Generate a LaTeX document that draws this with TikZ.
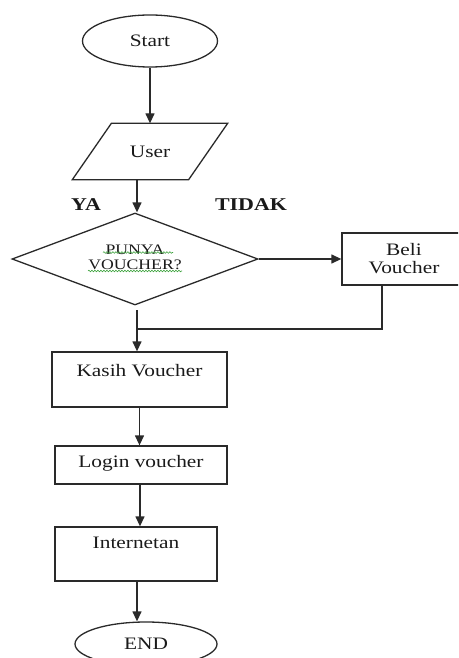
\documentclass[tikz,border=0pt]{standalone}
\usepackage{fontspec}
\setmainfont[FakeStretch=1.22]{Liberation Serif}
\usetikzlibrary{shapes.geometric,arrows.meta,decorations.pathmorphing}
\definecolor{linec}{HTML}{2A2A2A}
\definecolor{textc}{HTML}{1A1A1A}
\definecolor{spellc}{HTML}{3FA33F}
\begin{document}
\begin{tikzpicture}[x=1pt,y=-1pt,line width=1.3pt,
  base/.style={draw=linec,text=textc,inner sep=0pt,align=center,font=\fontsize{17.5}{18}\selectfont},
  terminal/.style={base,ellipse},
  procbox/.style={base,rectangle},
  iobox/.style={inner sep=0pt,text=textc,font=\fontsize{17.5}{18}\selectfont},
  decision/.style={base,diamond,aspect=2.67,font=\fontsize{14.5}{18}\selectfont},
  answer/.style={inner sep=0pt,text=textc,font=\bfseries\fontsize{18}{18}\selectfont},
  arr/.style={draw=linec,-{Triangle[length=10pt,width=9pt]}},
  conn/.style={draw=linec},
  spell/.style={draw=spellc,line width=0.6pt,decorate,decoration={snake,segment length=3pt,amplitude=0.8pt}}]
\useasboundingbox (0,0) rectangle (458,658);
\clip (0,0) rectangle (458,658);

% nodes
\node[terminal,minimum width=135pt,minimum height=52pt] (start) at (150,41) {Start};
\node[iobox,minimum width=115pt,minimum height=55pt] (user) at (150,151.5) {User};
\draw[linec] ([xshift=-19.5pt]user.south west) -- ([xshift=-19.5pt]user.south east)
  -- ([xshift=19.5pt]user.north east) -- ([xshift=19.5pt]user.north west) -- cycle;
\node[decision,minimum width=246pt,minimum height=92pt] (dec) at (135,259) {\raisebox{4pt}{\shortstack{PUNYA\\[2pt]VOUCHER?}}};
\node[answer] (ya) at (86,205) {YA};
\node[answer] (tidak) at (251,205) {TIDAK};
\node[procbox,minimum width=124pt,minimum height=52pt] (beli) at (404,259) {Beli\\Voucher};
\node[procbox,minimum width=175pt,minimum height=55pt] (kasih) at (139.5,379.5) {Kasih Voucher\\ };
\node[procbox,minimum width=172pt,minimum height=38pt] (login) at (141,465) {Login voucher\\[-10pt] };
\node[procbox,minimum width=162pt,minimum height=54pt] (inter) at (136,554) {Internetan\\[4pt] };
\node[terminal,minimum width=142pt,minimum height=44pt] (end) at (146,644) {\raisebox{1pt}{END}};

% spell-check underlines
\draw[spell] (103,252.5) -- (173,252.5);
\draw[spell] (88,271) -- (182,271);

% helper coordinates
\coordinate (d1) at (137,310);
\coordinate (j) at (137,329);
\coordinate (bx) at (382,0);
\coordinate (ix) at (140,0);
\coordinate (ex) at (137,0);

% connectors
\draw[arr] (start.south) -- (user.north);
\draw[arr] (user.south -| d1) -- (d1 |- dec.north);
\draw[arr] (dec.east) -- (beli.west);
\draw[arr] (d1) -- (d1 |- kasih.north);
\draw[conn] (beli.south -| bx) |- (j);
\draw[arr] (kasih.south) -- (kasih.south |- login.north);
\draw[arr] (login.south -| ix) -- (ix |- inter.north);
\draw[arr] (inter.south -| ex) -- (ex |- end.north);
\end{tikzpicture}
\end{document}
